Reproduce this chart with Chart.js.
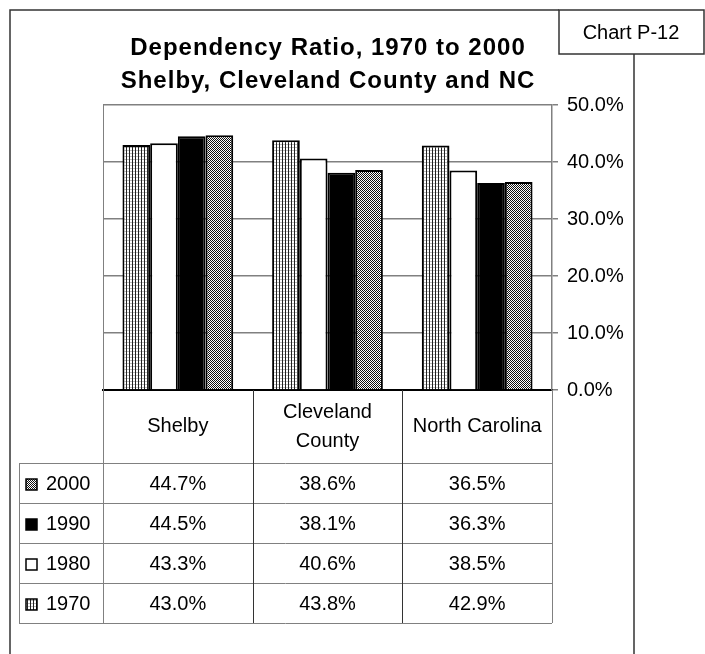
<!DOCTYPE html>
<html>
<head>
<meta charset="utf-8">
<title>Dependency Ratio, 1970 to 2000</title>
<script src="https://cdn.jsdelivr.net/npm/chart.js@4/dist/chart.umd.min.js"></script>
<style>
  html, body { margin: 0; padding: 0; background: #fff; }
  #wrap { width: 705px; height: 654px; }
</style>
</head>
<body>
<div id="wrap"><canvas id="chart" width="705" height="654"></canvas></div>
<script>
const categories = ['Shelby', ['Cleveland', 'County'], 'North Carolina'];
const years = ['1970', '1980', '1990', '2000'];
const ratio1970 = [43.0, 43.8, 42.9];
const ratio1980 = [43.3, 40.6, 38.5];
const ratio1990 = [44.5, 38.1, 36.3];
const ratio2000 = [44.7, 38.6, 36.5];
const yTicks = [0, 10, 20, 30, 40, 50];

const FONT = '"Liberation Sans", Arial, sans-serif';

// fill patterns used for the 1970 and 2000 bars
function makePattern(size, draw) {
  const c = document.createElement('canvas');
  c.width = size; c.height = size;
  const g = c.getContext('2d');
  g.fillStyle = '#fff';
  g.fillRect(0, 0, size, size);
  draw(g);
  return c.getContext('2d').createPattern(c, 'repeat');
}
const stripes = makePattern(3, g => {
  g.fillStyle = '#222';
  g.fillRect(0, 0, 1, 3);
  g.fillStyle = '#bbb';
  g.fillRect(1, 0, 2, 1);
});
const checker = makePattern(2, g => {
  g.fillStyle = '#111';
  g.fillRect(0, 0, 1, 1);
  g.fillRect(1, 1, 1, 1);
});

const fills = [stripes, '#fff', '#000', checker];
const series = [ratio1970, ratio1980, ratio1990, ratio2000];

// frame, title, data table and legend keys
const decor = {
  id: 'decor',
  afterDraw(chart) {
    const ctx = chart.ctx;
    const area = chart.chartArea;
    const x = chart.scales.x;
    ctx.save();

    // outer frame and the chart number box
    ctx.strokeStyle = '#333';
    ctx.lineWidth = 1.5;
    ctx.beginPath();
    ctx.moveTo(10, 654); ctx.lineTo(10, 10); ctx.lineTo(559, 10);
    ctx.moveTo(634, 54); ctx.lineTo(634, 654);
    ctx.stroke();
    ctx.strokeRect(559, 10, 145, 44);
    ctx.fillStyle = '#000';
    ctx.font = '20px ' + FONT;
    ctx.textAlign = 'center';
    ctx.textBaseline = 'middle';
    ctx.fillText('Chart P-12', 631, 33);

    // title
    ctx.font = 'bold 24px ' + FONT;
    ctx.letterSpacing = '1px';
    ctx.textBaseline = 'alphabetic';
    ctx.fillText('Dependency Ratio, 1970 to 2000', 328, 55);
    ctx.fillText('Shelby, Cleveland County and NC', 328, 88);
    ctx.letterSpacing = '0px';

    // table grid
    const half = (x.getPixelForValue(1) - x.getPixelForValue(0)) / 2;
    const headTop = area.bottom;
    const rowTop = 463;
    const rowH = 40;
    const tableBottom = rowTop + rowH * years.length;
    const legendLeft = 19;

    ctx.strokeStyle = '#808080';
    ctx.lineWidth = 1;
    ctx.beginPath();
    ctx.moveTo(area.left + 0.5, area.top); ctx.lineTo(area.left + 0.5, tableBottom);
    ctx.moveTo(area.right + 0.5, headTop); ctx.lineTo(area.right + 0.5, tableBottom);
    ctx.moveTo(legendLeft + 0.5, rowTop); ctx.lineTo(legendLeft + 0.5, tableBottom);
    for (let r = 0; r <= years.length; r++) {
      const y = Math.round(rowTop + r * rowH) + 0.5;
      ctx.moveTo(legendLeft, y); ctx.lineTo(area.right, y);
    }
    ctx.stroke();

    ctx.strokeStyle = '#333';
    ctx.beginPath();
    for (let i = 1; i < categories.length; i++) {
      const bx = Math.round(x.getPixelForValue(i) - half) + 0.5;
      ctx.moveTo(bx, headTop); ctx.lineTo(bx, tableBottom);
    }
    ctx.stroke();

    // category headers
    ctx.fillStyle = '#000';
    ctx.font = '20px ' + FONT;
    ctx.textAlign = 'center';
    ctx.textBaseline = 'middle';
    const headMid = (headTop + rowTop) / 2;
    categories.forEach((c, i) => {
      const cx = x.getPixelForValue(i);
      const lines = Array.isArray(c) ? c : [c];
      const lh = 29;
      lines.forEach((t, k) => {
        ctx.fillText(t, cx, headMid + (k - (lines.length - 1) / 2) * lh);
      });
    });

    // rows: newest year first
    for (let r = 0; r < years.length; r++) {
      const s = years.length - 1 - r;
      const midY = rowTop + r * rowH + rowH / 2 + 1;
      series[s].forEach((v, i) => {
        ctx.textAlign = 'center';
        ctx.fillText(v.toFixed(1) + '%', x.getPixelForValue(i), midY);
      });
      // legend key
      ctx.fillStyle = fills[s];
      ctx.fillRect(26, midY - 5, 11, 11);
      ctx.strokeStyle = '#000';
      ctx.lineWidth = 1.5;
      ctx.strokeRect(26, midY - 5, 11, 11);
      ctx.fillStyle = '#000';
      ctx.textAlign = 'left';
      ctx.fillText(years[s], 46, midY);
    }
    ctx.restore();
  }
};

new Chart(document.getElementById('chart'), {
  type: 'bar',
  data: {
    labels: categories,
    datasets: years.map((yr, i) => ({
      label: yr,
      data: series[i],
      backgroundColor: fills[i],
      borderColor: '#000',
      borderWidth: 2,
      borderSkipped: 'bottom'
    }))
  },
  options: {
    responsive: false,
    animation: false,
    events: [],
    categoryPercentage: 0.74,
    barPercentage: 1.0,
    layout: { padding: { left: 103, top: 105, right: 0, bottom: 0 } },
    plugins: {
      legend: { display: false },
      title: { display: false },
      tooltip: { enabled: false }
    },
    scales: {
      x: {
        grid: { display: false },
        ticks: { display: false },
        border: { color: '#000', width: 2 },
        afterFit(scale) { scale.height = 264; }
      },
      y: {
        position: 'right',
        min: 0,
        max: 50,
        afterBuildTicks(scale) { scale.ticks = yTicks.map(v => ({ value: v })); },
        grid: { color: '#808080', lineWidth: 1.5, tickLength: 6, drawTicks: true },
        border: { color: '#808080', width: 1.5 },
        ticks: {
          color: '#000',
          padding: 9,
          font: { family: FONT, size: 20 },
          callback: v => v.toFixed(1) + '%'
        },
        afterFit(scale) { scale.width = 153; }
      }
    }
  },
  plugins: [decor]
});
</script>
</body>
</html>
